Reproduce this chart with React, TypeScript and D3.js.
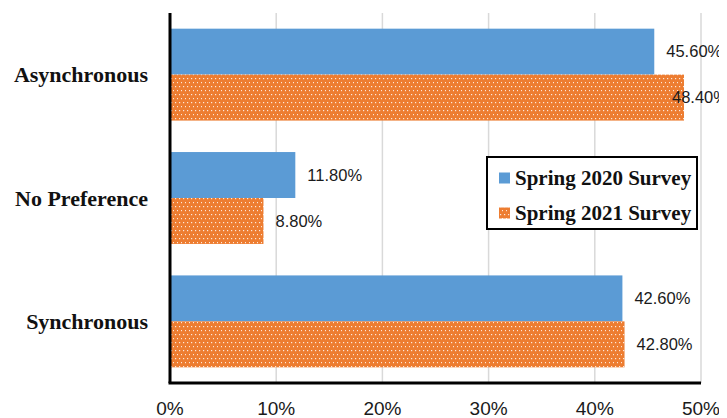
import { useEffect, useRef } from 'react'
import * as d3 from 'd3'

const categories = ['Asynchronous', 'No Preference', 'Synchronous']
const spring2020 = [45.6, 11.8, 42.6]
const spring2021 = [48.4, 8.8, 42.8]
const seriesNames = ['Spring 2020 Survey', 'Spring 2021 Survey']
const xTicks = [0, 10, 20, 30, 40, 50]

function App() {
    const ref = useRef<SVGSVGElement>(null)

    useEffect(() => {
        const width = 727
        const height = 418
        const margin = { top: 13, right: 26, bottom: 35, left: 170 }
        const innerW = width - margin.left - margin.right
        const innerH = height - margin.top - margin.bottom

        const svg = d3.select(ref.current)
        svg.selectAll('*').remove()

        const defs = svg.append('defs')
        const pat = defs
            .append('pattern')
            .attr('id', 'dots')
            .attr('patternUnits', 'userSpaceOnUse')
            .attr('width', 4)
            .attr('height', 8)
        pat.append('rect').attr('width', 4).attr('height', 8).attr('fill', '#ED7D31')
        pat.append('rect').attr('x', 1).attr('y', 1).attr('width', 1.2).attr('height', 1.2).attr('fill', '#fde8da')
        pat.append('rect').attr('x', 3).attr('y', 5).attr('width', 1.2).attr('height', 1.2).attr('fill', '#fde8da')

        const x = d3.scaleLinear().domain([0, 50]).range([0, innerW])
        const y = d3.scaleBand().domain(categories).range([0, innerH]).paddingInner(0.255).paddingOuter(0.127)
        const sub = d3.scaleBand().domain(seriesNames).range([0, y.bandwidth()])

        const g = svg.append('g').attr('transform', `translate(${margin.left}, ${margin.top})`)

        // gridlines
        g.selectAll('line.grid')
            .data(xTicks.slice(1))
            .enter()
            .append('line')
            .attr('x1', d => x(d))
            .attr('x2', d => x(d))
            .attr('y1', 0)
            .attr('y2', innerH)
            .attr('stroke', '#d9d9d9')
            .attr('stroke-width', 1.5)

        const series = [
            { name: seriesNames[0], values: spring2020, fill: '#5B9BD5' },
            { name: seriesNames[1], values: spring2021, fill: 'url(#dots)' },
        ]

        // labels that would run off the right edge are pulled back inside it
        const labelW = 55
        series.forEach(s => {
            g.selectAll(null)
                .data(categories)
                .enter()
                .append('rect')
                .attr('x', 0)
                .attr('y', (c) => (y(c) as number) + (sub(s.name) as number))
                .attr('width', (c, i) => x(s.values[i]))
                .attr('height', sub.bandwidth())
                .attr('fill', s.fill)

            g.selectAll(null)
                .data(categories)
                .enter()
                .append('text')
                .attr('x', (c, i) => Math.min(x(s.values[i]) + 12, width - margin.left - labelW))
                .attr('y', (c) => (y(c) as number) + (sub(s.name) as number) + sub.bandwidth() / 2)
                .attr('dy', '0.35em')
                .attr('font-family', 'Liberation Sans, Arial, sans-serif')
                .attr('font-size', 16.5)
                .attr('fill', '#1a1a1a')
                .text((c, i) => s.values[i].toFixed(2) + '%')
        })

        // axes
        g.append('line')
            .attr('x1', 0).attr('x2', 0)
            .attr('y1', 0).attr('y2', innerH)
            .attr('stroke', '#000').attr('stroke-width', 3)
        g.append('line')
            .attr('x1', -1.5).attr('x2', innerW)
            .attr('y1', innerH).attr('y2', innerH)
            .attr('stroke', '#000').attr('stroke-width', 3)

        g.selectAll('text.tick')
            .data(xTicks)
            .enter()
            .append('text')
            .attr('x', d => x(d))
            .attr('y', innerH + 32)
            .attr('text-anchor', 'middle')
            .attr('font-family', 'Liberation Sans, Arial, sans-serif')
            .attr('font-size', 19)
            .attr('fill', '#1a1a1a')
            .text(d => d + '%')

        g.selectAll('text.cat')
            .data(categories)
            .enter()
            .append('text')
            .attr('x', -22)
            .attr('y', c => (y(c) as number) + y.bandwidth() / 2)
            .attr('dy', '0.35em')
            .attr('text-anchor', 'end')
            .attr('font-family', 'Liberation Serif, Times New Roman, serif')
            .attr('font-weight', 'bold')
            .attr('font-size', 22)
            .attr('fill', '#111')
            .text(c => c)

        // legend
        const lg = svg.append('g').attr('transform', 'translate(487, 157)')
        lg.append('rect')
            .attr('width', 210)
            .attr('height', 72)
            .attr('fill', '#fff')
            .attr('stroke', '#000')
            .attr('stroke-width', 2)
        series.forEach((s, i) => {
            lg.append('rect')
                .attr('x', 12)
                .attr('y', 15.5 + i * 35)
                .attr('width', 11)
                .attr('height', 11)
                .attr('fill', s.fill)
            lg.append('text')
                .attr('x', 28)
                .attr('y', 21 + i * 35)
                .attr('dy', '0.35em')
                .attr('font-family', 'Liberation Serif, Times New Roman, serif')
                .attr('font-weight', 'bold')
                .attr('font-size', 21)
                .attr('fill', '#111')
                .text(s.name)
        })
    })

    return (
        <svg ref={ref} width={727} height={418} style={{ display: 'block', margin: '-8px 0 0 -8px' }} />
    )
}

export default App
